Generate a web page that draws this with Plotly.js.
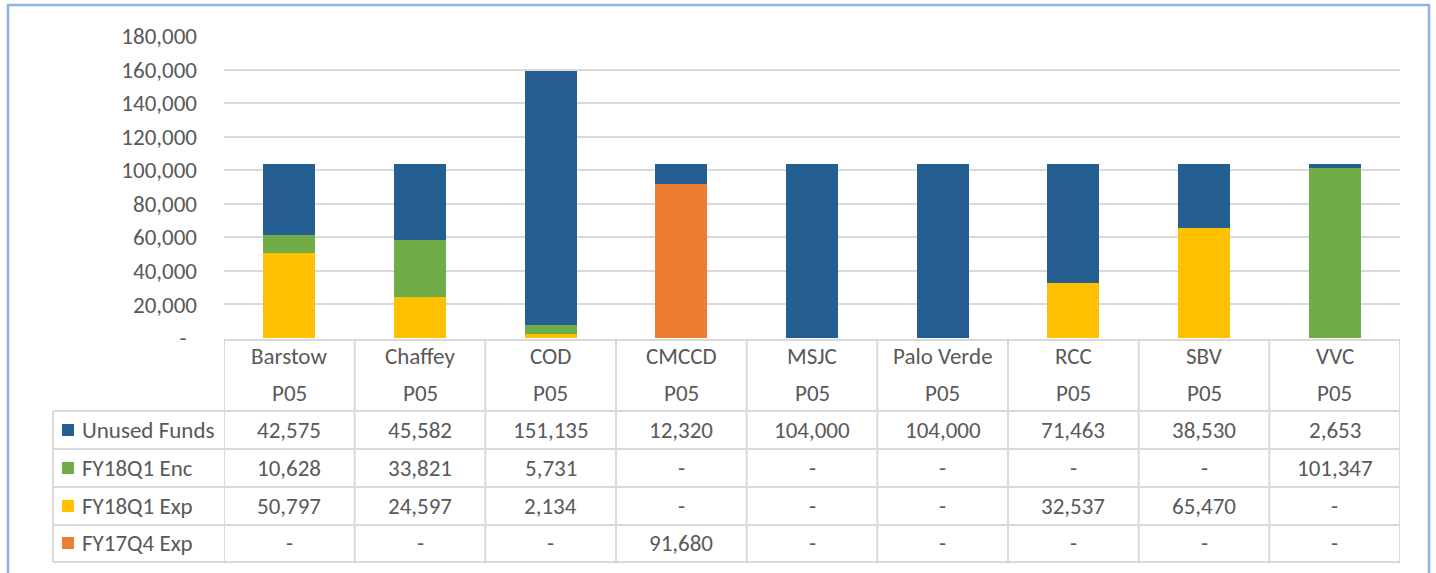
<!DOCTYPE html>
<html>
<head>
<meta charset="utf-8">
<script src="https://cdn.plot.ly/plotly-3.0.1.min.js"></script>
<style>html,body{margin:0;padding:0;background:#fff;}#chart{width:1436px;height:573px;}</style>
</head>
<body>
<div id="chart"></div>
<script>
// ---- data ----
const categories = ['Barstow', 'Chaffey', 'COD', 'CMCCD', 'MSJC', 'Palo Verde', 'RCC', 'SBV', 'VVC'];
const periodLabels = ['P05', 'P05', 'P05', 'P05', 'P05', 'P05', 'P05', 'P05', 'P05'];
const unusedFunds = [42575, 45582, 151135, 12320, 104000, 104000, 71463, 38530, 2653];
const fy18q1Enc = [10628, 33821, 5731, null, null, null, null, null, 101347];
const fy18q1Exp = [50797, 24597, 2134, null, null, null, 32537, 65470, null];
const fy17q4Exp = [null, null, null, 91680, null, null, null, null, null];
const seriesNames = ['Unused Funds', 'FY18Q1 Enc', 'FY18Q1 Exp', 'FY17Q4 Exp'];
const seriesColors = ['#255E91', '#70AD47', '#FFC000', '#ED7D31'];
const yTickVals = [0, 20000, 40000, 60000, 80000, 100000, 120000, 140000, 160000, 180000];
const yTickText = ['-\u00a0\u00a0', '20,000', '40,000', '60,000', '80,000', '100,000', '120,000', '140,000', '160,000', '180,000'];

// ---- layout geometry (pixels) ----
const W = 1436, H = 573;
const plotL = 224, plotR = 1400, plotT = 36, plotB = 338;
const pw = plotR - plotL, ph = plotB - plotT;
const px = p => (p - plotL) / pw;
const py = p => (plotB - p) / ph;

const txtColor = '#595959';
const gridColor = '#D9D9D9';
const fontFam = 'Calibri, Carlito, "Liberation Sans", Arial, sans-serif';
const fs = 23;

const seriesData = [unusedFunds, fy18q1Enc, fy18q1Exp, fy17q4Exp];
// stacking: bottom first
const stackOrder = [3, 2, 1, 0];
const xIdx = categories.map((c, i) => i);

const traces = stackOrder.map(k => ({
  type: 'bar',
  name: seriesNames[k],
  x: xIdx,
  y: seriesData[k],
  marker: {color: seriesColors[k], line: {width: 0}},
  hoverinfo: 'x+y+name'
}));

const fmt = v => (v === null || v === 0) ? '-' : v.toLocaleString('en-US');

const shapes = [];
const annotations = [];

// outer chart border
shapes.push({type: 'rect', xref: 'paper', yref: 'paper',
  x0: px(8), x1: px(1429), y0: py(5), y1: py(600),
  line: {color: '#8DB4E2', width: 2.5}, fillcolor: 'rgba(0,0,0,0)', layer: 'below'});

// table geometry
const headerTop = 340, headerBot = 411;
const rowLines = [411, 449, 487, 525, 562];
const tableLeft = 53;
const lineStyle = {color: gridColor, width: 2};

shapes.push({type: 'line', xref: 'paper', yref: 'paper', x0: 0, x1: 1, y0: py(headerTop), y1: py(headerTop), line: lineStyle});
rowLines.forEach(r => {
  shapes.push({type: 'line', xref: 'paper', yref: 'paper', x0: px(tableLeft), x1: 1, y0: py(r), y1: py(r), line: lineStyle});
});
shapes.push({type: 'line', xref: 'paper', yref: 'paper', x0: px(tableLeft), x1: px(tableLeft), y0: py(headerBot), y1: py(562), line: lineStyle});
for (let k = 0; k <= categories.length; k++) {
  shapes.push({type: 'line', xref: 'x', yref: 'paper', x0: k - 0.5, x1: k - 0.5, y0: py(headerTop), y1: py(562), line: lineStyle});
}

// header labels
categories.forEach((c, i) => {
  annotations.push({xref: 'x', yref: 'paper', x: i, y: py(356), text: c, showarrow: false,
    xanchor: 'center', yanchor: 'middle', font: {size: fs, color: txtColor, family: fontFam}});
  annotations.push({xref: 'x', yref: 'paper', x: i, y: py(393), text: periodLabels[i], showarrow: false,
    xanchor: 'center', yanchor: 'middle', font: {size: fs, color: txtColor, family: fontFam}});
});

// data rows
const rowCenters = [430, 468, 506, 543];
seriesNames.forEach((name, r) => {
  const yc = py(rowCenters[r]);
  shapes.push({type: 'rect', xref: 'paper', yref: 'paper', x0: px(62), x1: px(74),
    y0: py(rowCenters[r] - 6), y1: py(rowCenters[r] + 6), fillcolor: seriesColors[r], line: {width: 0}});
  annotations.push({xref: 'paper', yref: 'paper', x: px(80), y: yc, text: name, showarrow: false,
    xanchor: 'left', yanchor: 'middle', font: {size: fs, color: txtColor, family: fontFam}});
  seriesData[r].forEach((v, i) => {
    annotations.push({xref: 'x', yref: 'paper', x: i, y: yc, text: fmt(v), showarrow: false,
      xanchor: 'center', yanchor: 'middle', font: {size: fs, color: txtColor, family: fontFam}});
  });
});

const layout = {
  width: W, height: H,
  margin: {l: plotL, r: W - plotR, t: plotT, b: H - plotB, pad: 0},
  paper_bgcolor: '#ffffff', plot_bgcolor: '#ffffff',
  barmode: 'stack',
  bargap: 0.6,
  showlegend: false,
  font: {family: fontFam, color: txtColor, size: fs},
  xaxis: {type: 'linear', range: [-0.5, categories.length - 0.5], showticklabels: false,
    showgrid: false, zeroline: false, showline: false, ticks: '', fixedrange: true},
  yaxis: {range: [0, 180000], tickvals: yTickVals, ticktext: yTickText, showgrid: true,
    gridcolor: gridColor, gridwidth: 2, zeroline: false, showline: false, ticks: '',
    ticklabelstandoff: 26, tickfont: {size: fs, color: txtColor, family: fontFam}, fixedrange: true},
  shapes: shapes,
  annotations: annotations
};

Plotly.newPlot('chart', traces, layout, {displayModeBar: false, staticPlot: true});
</script>
</body>
</html>
